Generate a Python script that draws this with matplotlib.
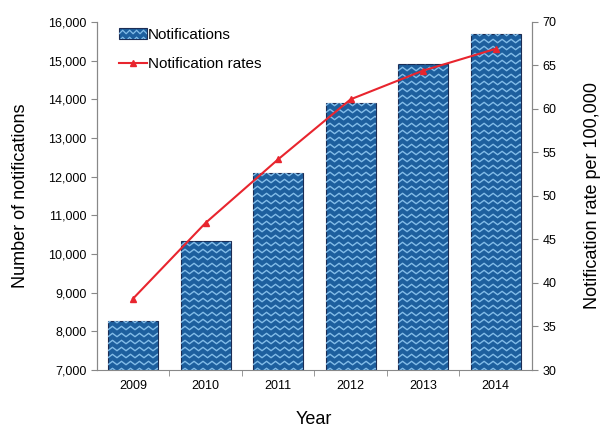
import numpy as np
import matplotlib
matplotlib.use('Agg')
import matplotlib.pyplot as plt
from matplotlib.lines import Line2D
from matplotlib.patches import Rectangle
from matplotlib.legend_handler import HandlerPatch
from matplotlib.transforms import IdentityTransform

plt.rcParams['font.family'] = ['Liberation Sans', 'DejaVu Sans']

# Данные графика.
years = ['2009', '2010', '2011', '2012', '2013', '2014']
notifications = [8270, 10330, 12095, 13895, 14910, 15690]
rates = [38.2, 46.9, 54.2, 61.1, 64.4, 66.9]

bar_color = '#1d5f9e'
zig_color = '#82bce8'
edge_color = '#1c2d55'
line_color = '#e8252e'
spine_color = '#888888'


# Зигзаг внутри прямоугольника (в пикселях).
def zigzag_lines(x0, y0, x1, y1, period=9.0, amp=3.4, step=7.0):
    segs = []
    xs = np.arange(x0 - period, x1 + period, period / 2)
    ys_off = np.where(np.arange(len(xs)) % 2 == 0, -amp / 2, amp / 2)
    y = y0 - step
    while y < y1 + step:
        segs.append((xs, y + ys_off))
        y += step
    return segs


class ZigzagHandler(HandlerPatch):
    def create_artists(self, legend, orig_handle, xdescent, ydescent,
                       width, height, fontsize, trans):
        rect = Rectangle((-xdescent, -ydescent), width, height,
                         facecolor=bar_color, edgecolor=edge_color, lw=0.8,
                         transform=trans)
        arts = [rect]
        for xs, ys in zigzag_lines(-xdescent, -ydescent, width - xdescent,
                                   height - ydescent, period=5, amp=2.5, step=5):
            ln = Line2D(xs, ys, color=zig_color, lw=0.9, transform=trans)
            ln.set_clip_path(rect)
            arts.append(ln)
        return arts


fig = plt.figure(figsize=(6.01, 4.29), dpi=100)
ax = fig.add_axes([0.161, 0.1375, 0.724, 0.8115])
ax2 = ax.twinx()

x = np.arange(len(years))
bars = ax.bar(x, notifications, width=0.69, color=bar_color,
              edgecolor=edge_color, linewidth=0.8, zorder=2)

ax.set_xlim(-0.5, len(years) - 0.5)
ax.set_ylim(7000, 16000)
ax.set_yticks(np.arange(7000, 16001, 1000))
ax.set_yticklabels(['{:,}'.format(v) for v in range(7000, 16001, 1000)])
ax.set_xticks(x)
ax.set_xticklabels(years)
ax.set_xticks(np.arange(-0.5, len(years), 1.0)[1:-1], minor=True)
ax.tick_params(axis='x', which='major', length=0, labelsize=9, pad=7)
ax.tick_params(axis='x', which='minor', length=4, color=spine_color, direction='out')
ax.tick_params(axis='y', labelsize=9, length=4, color=spine_color)

ax2.set_ylim(30, 70)
ax2.set_yticks(np.arange(30, 71, 5))
ax2.tick_params(axis='y', labelsize=9, length=4, color=spine_color)
ax2.plot(x, rates, color=line_color, lw=1.5, marker='^', markersize=4.5,
         zorder=3)

for a in (ax, ax2):
    a.spines['top'].set_visible(False)
    for s in ('left', 'right', 'bottom'):
        a.spines[s].set_color(spine_color)
ax2.spines['bottom'].set_visible(False)

ax.set_xlabel('Year', fontsize=13, labelpad=14)
ax.set_ylabel('Number of notifications', fontsize=13, labelpad=14)
ax2.set_ylabel('Notification rate per 100,000', fontsize=13, labelpad=20)

# Зигзагообразная заливка столбцов.
fig.canvas.draw()
ax_y0 = ax.transAxes.transform((0, 0))[1]
for b in bars:
    (px0, py0), (px1, py1) = ax.transData.transform(
        [(b.get_x(), b.get_y()), (b.get_x() + b.get_width(), b.get_y() + b.get_height())])
    py0 = max(py0, ax_y0)
    clip = Rectangle((px0, py0), px1 - px0, py1 - py0, transform=IdentityTransform())
    for xs, ys in zigzag_lines(px0, py0, px1, py1):
        ln = Line2D(xs, ys, color=zig_color, lw=1.0, transform=IdentityTransform(),
                    zorder=2.1)
        ax.add_line(ln)
        ln.set_clip_path(clip)

bar_proxy = Rectangle((0, 0), 1, 1)
line_proxy = Line2D([], [], color=line_color, lw=1.5, marker='^', markersize=4)
leg = ax.legend([bar_proxy, line_proxy], ['Notifications', 'Notification rates'],
                loc='upper left', bbox_to_anchor=(0.02, 1.022), frameon=False,
                fontsize=11, handlelength=1.8, handletextpad=0.1, labelspacing=1.0,
                handler_map={Rectangle: ZigzagHandler()})
leg.set_zorder(5)

fig.savefig('out.png', dpi=100)
